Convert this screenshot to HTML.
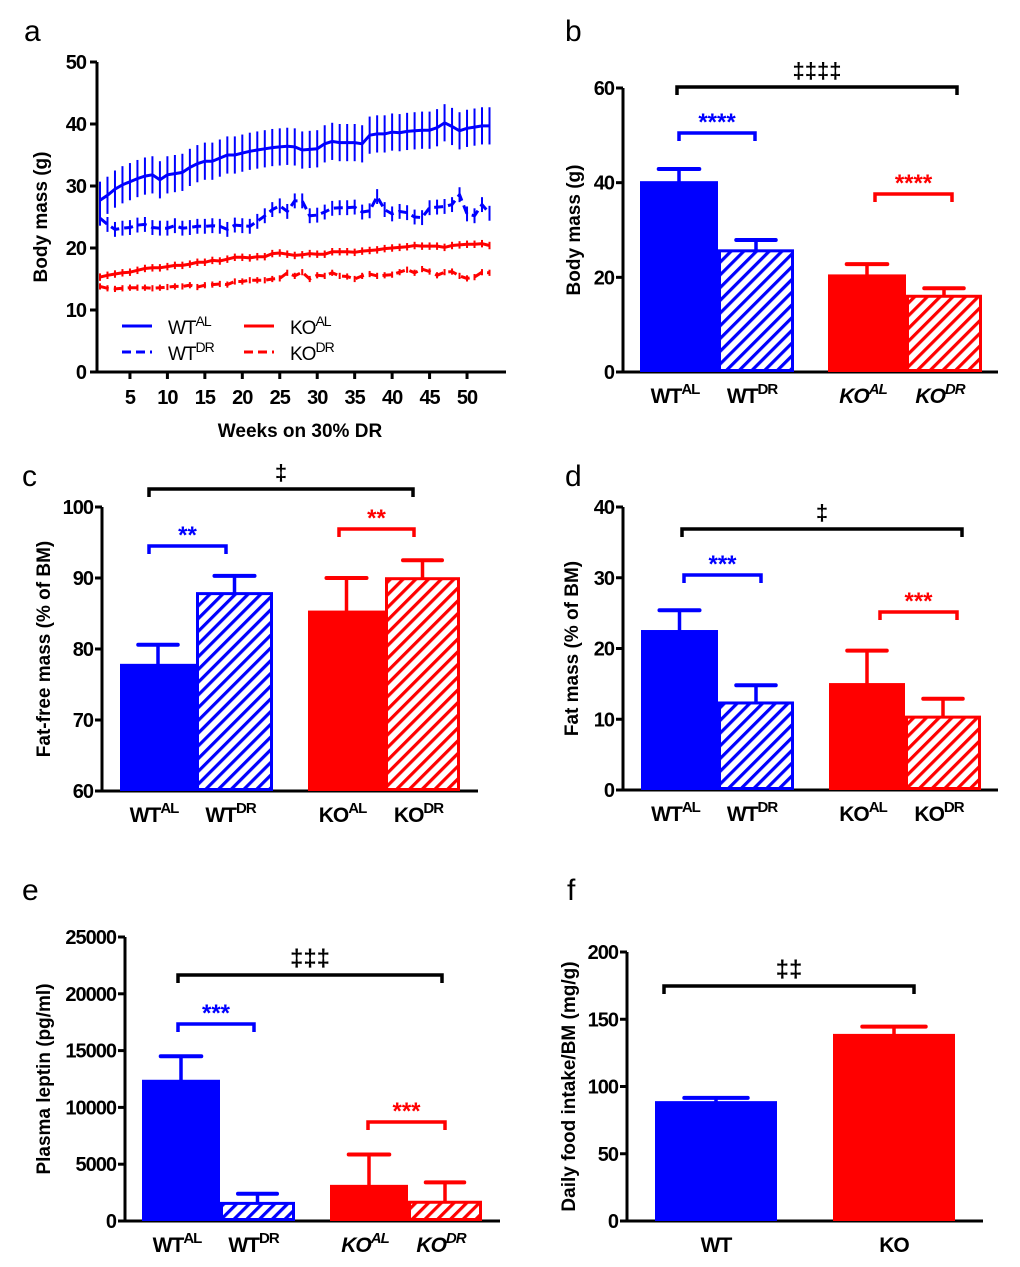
<!DOCTYPE html>
<html><head><meta charset="utf-8">
<style>
html,body{margin:0;padding:0;background:#fff;}
svg{display:block;font-family:"Liberation Sans",Arial,sans-serif;}
.tick{font-weight:bold;font-size:20px;letter-spacing:-1px;}
.ttl{font-weight:bold;font-size:19px;}
.let{font-size:30px;}
</style></head>
<body>
<svg id="fig" width="1020" height="1267" viewBox="0 0 1020 1267">
<defs>
<pattern id="hb" patternUnits="userSpaceOnUse" width="9" height="9" patternTransform="rotate(45)"><rect x="0" y="0" width="3.2" height="9" fill="#0000ff"/></pattern>
<pattern id="hr" patternUnits="userSpaceOnUse" width="9" height="9" patternTransform="rotate(45)"><rect x="0" y="0" width="3.2" height="9" fill="#ff0000"/></pattern>
</defs>
<text class="let" x="24" y="41">a</text>
<text class="let" x="565" y="41">b</text>
<text class="let" x="22" y="486">c</text>
<text class="let" x="565" y="486">d</text>
<text class="let" x="22" y="900">e</text>
<text class="let" x="567" y="900">f</text>
</svg>
<script>
// ---- Panel a data ----
const weeks = Array.from({length:53},(_, i)=>i+1);
const wtAL = [27.7,28.5,29.5,30.2,30.7,31.2,31.6,31.8,31.0,31.8,32.0,32.2,33.0,33.6,34.0,34.0,34.5,35.0,35.0,35.3,35.6,35.8,36.0,36.2,36.3,36.4,36.3,35.8,35.9,36.0,36.8,37.2,37.0,37.0,37.0,36.8,38.2,38.4,38.4,38.7,38.6,38.8,38.9,39.0,39.0,39.4,40.2,39.6,38.9,39.3,39.5,39.7,39.7];
const wtDR = [24.8,23.8,23.0,23.2,23.3,23.7,23.8,23.3,23.2,23.2,23.6,23.2,23.3,23.5,23.5,23.6,23.5,23.0,23.7,23.6,23.5,24.3,25.2,26.2,26.8,25.9,27.6,27.6,25.2,25.3,25.8,26.4,26.5,26.5,26.6,25.8,26.0,28.3,26.2,25.5,25.9,25.7,25.0,24.9,26.5,26.6,26.7,27.0,28.6,25.5,25.2,27.0,25.6];
const koAL = [15.3,15.6,15.8,16.0,16.1,16.4,16.7,16.8,16.8,17.0,17.2,17.2,17.4,17.7,17.7,18.0,17.9,18.2,18.5,18.5,18.4,18.6,18.6,19.1,19.2,19.0,18.8,18.9,19.1,19.0,19.0,19.4,19.4,19.4,19.3,19.5,19.6,19.7,19.9,20.0,20.1,20.2,20.4,20.3,20.3,20.3,20.1,20.4,20.5,20.6,20.6,20.7,20.4];
const koDR = [13.8,13.5,13.4,13.5,13.6,13.6,13.6,13.5,13.6,13.7,13.8,13.8,14.0,13.7,14.0,14.1,14.2,14.1,14.6,14.6,14.8,14.8,14.8,15.0,15.1,16.0,15.5,16.1,15.0,15.6,15.5,16.0,15.5,15.4,15.0,15.5,15.8,15.5,15.6,15.7,16.1,16.5,16.0,16.6,16.2,15.6,16.1,16.2,15.5,15.1,15.3,16.1,16.0];
const errWtAL = 3.0, errWtDR = 1.2, errKoAL = 0.6, errKoDR = 0.5;
const aYTicks = [0,10,20,30,40,50];
const aXTicks = [5,10,15,20,25,30,35,40,45,50];

// ---- Bar panels data ----
const groupLabels = ["WT","WT","KO","KO"];
const groupSups = ["AL","DR","AL","DR"];
const bVals = [40.0,25.6,20.3,16.0];
const bErrs = [2.9,2.3,2.5,1.7];
const bTicks = [0,20,40,60];
const cVals = [77.7,87.8,85.2,89.9];
const cErrs = [2.9,2.5,4.8,2.6];
const cTicks = [60,70,80,90,100];
const dVals = [22.4,12.3,14.9,10.3];
const dErrs = [3.0,2.5,4.8,2.6];
const dTicks = [0,10,20,30,40];
const eVals = [12300,1550,3050,1650];
const eErrs = [2200,850,2800,1750];
const eTicks = [0,5000,10000,15000,20000,25000];
const fLabels = ["WT","KO"];
const fVals = [88,138];
const fErrs = [3.5,6.5];
const fTicks = [0,50,100,150,200];

const svg = document.getElementById('fig');
const NS = 'http://www.w3.org/2000/svg';
function mk(tag, attrs, parent){
  const e = document.createElementNS(NS, tag);
  for (const k in attrs) e.setAttribute(k, attrs[k]);
  (parent||svg).appendChild(e);
  return e;
}
function lin(d0,d1,r0,r1){return v => r0 + (v-d0)*(r1-r0)/(d1-d0);}

// ---- Panel a ----
(function(){
  const g = mk('g',{});
  
  
  const x = lin(0,53,92.5,489.5), y = lin(0,50,372,62);
  const ax = mk('path',{d:'M97 62 V372 H506',stroke:'#000','stroke-width':3,fill:'none'},g);
  
  
  aYTicks.forEach(t=>{
    mk('line',{x1:90,x2:97,y1:y(t),y2:y(t),stroke:'#000','stroke-width':3},g);
    const tx = mk('text',{x:86,y:y(t)+7,'text-anchor':'end',class:'tick'},g);
    tx.textContent = t;
    
    
  });
  aXTicks.forEach(t=>{
    mk('line',{x1:x(t),x2:x(t),y1:372,y2:379,stroke:'#000','stroke-width':3},g);
    const tx = mk('text',{x:x(t),y:404,'text-anchor':'middle',class:'tick'},g);
    tx.textContent = t;
    
    
  });
  const xt = mk('text',{x:300,y:437,'text-anchor':'middle',class:'ttl'},g);
  xt.textContent = 'Weeks on 30% DR';
  
  
  const yt = mk('text',{x:0,y:0,'text-anchor':'middle',class:'ttl',transform:'translate(47,217) rotate(-90)'},g);
  yt.textContent = 'Body mass (g)';
  
  
  const series = [
    {v:wtAL,e:errWtAL,c:'#0000ff',dash:'',n:'wt-al'},
    {v:wtDR,e:errWtDR,c:'#0000ff',dash:'9,5',n:'wt-dr'},
    {v:koAL,e:errKoAL,c:'#ff0000',dash:'',n:'ko-al'},
    {v:koDR,e:errKoDR,c:'#ff0000',dash:'9,5',n:'ko-dr'}];
  series.forEach(s=>{
    const sg = mk('g',{},g);
    
    
    let d='';
    s.v.forEach((v,i)=>{
      const X = x(weeks[i]);
      mk('line',{x1:X,x2:X,y1:y(v-s.e),y2:y(v+s.e),stroke:s.c,'stroke-width':2},sg);
      d += (i?'L':'M')+X.toFixed(1)+' '+y(v).toFixed(1);
    });
    const p = mk('path',{d:d,fill:'none',stroke:s.c,'stroke-width':3,'stroke-dasharray':s.dash||'none'},sg);
    
    
  });
  const leg = [[122,326,'#0000ff','','WT','AL',168],[122,352,'#0000ff','9,5','WT','DR',168],[244,326,'#ff0000','','KO','AL',290],[244,352,'#ff0000','9,5','KO','DR',290]];
  leg.forEach(l=>{
    const lg = mk('g',{},g);
    
    
    mk('line',{x1:l[0],x2:l[0]+30,y1:l[1],y2:l[1],stroke:l[2],'stroke-width':3,'stroke-dasharray':l[3]||'none'},lg);
    const t = mk('text',{x:l[6],y:l[1]+8,'font-size':'19px','letter-spacing':'-1px'},lg);
    t.innerHTML = l[4]+'<tspan font-size="14px" dy="-8">'+l[5]+'</tspan>';
  });
})();

function bracket(g,x1,x2,yy,color,label,fs){
  const bg = mk('g',{},g);
  
  
  mk('path',{d:`M${x1} ${yy+8} V${yy} H${x2} V${yy+8}`,fill:'none',stroke:color,'stroke-width':3.5},bg);
  const t = mk('text',{x:(x1+x2)/2,y:yy-(fs?9:3),'text-anchor':'middle',fill:color,'font-weight':'bold','font-size':(fs||24)+'px'},bg);
  t.textContent = label;
}

function barPanel(o){
  const g = mk('g',{});
  
  
  const y = lin(o.ticks[0],o.ticks[o.ticks.length-1],o.y0,o.y1);
  const ax = mk('path',{d:`M${o.ax} ${o.y1} V${o.y0} H${o.axEnd}`,stroke:'#000','stroke-width':3,fill:'none'},g);
  
  
  o.ticks.forEach(t=>{
    mk('line',{x1:o.ax-7,x2:o.ax,y1:y(t),y2:y(t),stroke:'#000','stroke-width':3},g);
    const tx = mk('text',{x:o.ax-9,y:y(t)+7,'text-anchor':'end',class:'tick'},g);
    tx.textContent = t;
    
    
  });
  const yt = mk('text',{x:0,y:0,'text-anchor':'middle',class:'ttl',transform:`translate(${o.ytx},${(o.y0+o.y1)/2}) rotate(-90)`},g);
  yt.textContent = o.ytitle;
  
  
  o.vals.forEach((v,i)=>{
    const x0 = o.bx[i][0], x1 = o.bx[i][1], w = x1-x0;
    const col = o.colors[i];
    const hatched = o.hatch[i];
    const top = y(v);
    mk('line',{x1:(x0+x1)/2,x2:(x0+x1)/2,y1:top,y2:y(v+o.errs[i]),stroke:col,'stroke-width':3.5},g);
    const cw = w*0.26;
    mk('line',{x1:(x0+x1)/2-cw,x2:(x0+x1)/2+cw,y1:y(v+o.errs[i]),y2:y(v+o.errs[i]),stroke:col,'stroke-width':4,'stroke-linecap':'round'},g);
    const r = mk('rect',{x:x0+1.5,y:top,width:w-3,height:o.y0-top-1.5,fill:hatched?(col==='#0000ff'?'url(#hb)':'url(#hr)'):col,stroke:col,'stroke-width':3},g);
    
    
    const lt = mk('text',{x:(x0+x1)/2+(o.sups?-4:0),y:o.y0+31,'text-anchor':'middle','font-weight':'bold','font-size':'21px','letter-spacing':'-1px','font-style':(o.italKO&&o.labels[i]==='KO')?'italic':'normal'},g);
    lt.innerHTML = o.labels[i] + (o.sups?'<tspan font-size="15px" dy="-9">'+o.sups[i]+'</tspan>':'');
    
    
  });
  o.brackets.forEach(b=>bracket(g,b[0],b[1],b[2],b[3],b[4],b[5]));
}
const C4 = ['#0000ff','#0000ff','#ff0000','#ff0000'];
const H4 = [false,true,false,true];
barPanel({name:'panel-b-body-mass',vals:bVals,errs:bErrs,ticks:bTicks,y0:372,y1:88,ax:623,axEnd:998,ytx:580,ytitle:'Body mass (g)',
  bx:[[640,718],[718,794],[828,906],[906,982]],colors:C4,hatch:H4,labels:groupLabels,sups:groupSups,italKO:true,
  brackets:[[677,957,87,'#000','‡‡‡‡',22],[679,755,133,'#0000ff','****'],[875,952,194,'#ff0000','****']]});
barPanel({name:'panel-c-fat-free-mass',vals:cVals,errs:cErrs,ticks:cTicks,y0:791,y1:507,ax:102,axEnd:478,ytx:50,ytitle:'Fat-free mass (% of BM)',
  bx:[[120,196],[196,273],[308,385],[385,460]],colors:C4,hatch:H4,labels:groupLabels,sups:groupSups,italKO:false,
  brackets:[[149,413,489,'#000','‡',22],[149,226,546,'#0000ff','**'],[339,414,529,'#ff0000','**']]});
barPanel({name:'panel-d-fat-mass',vals:dVals,errs:dErrs,ticks:dTicks,y0:790,y1:507,ax:623,axEnd:998,ytx:578,ytitle:'Fat mass (% of BM)',
  bx:[[641,718],[718,794],[829,905],[905,981]],colors:C4,hatch:H4,labels:groupLabels,sups:groupSups,italKO:false,
  brackets:[[682,962,529,'#000','‡',22],[684,761,575,'#0000ff','***'],[880,957,612,'#ff0000','***']]});
barPanel({name:'panel-e-plasma-leptin',vals:eVals,errs:eErrs,ticks:eTicks,y0:1221,y1:937,ax:125,axEnd:500,ytx:50,ytitle:'Plasma leptin (pg/ml)',
  bx:[[142,220],[220,295],[330,408],[408,482]],colors:C4,hatch:H4,labels:groupLabels,sups:groupSups,italKO:true,
  brackets:[[178,442,975,'#000','‡‡‡',24],[178,254,1024,'#0000ff','***'],[368,445,1122,'#ff0000','***']]});
barPanel({name:'panel-f-food-intake',vals:fVals,errs:fErrs,ticks:fTicks,y0:1221,y1:952,ax:627,axEnd:983,ytx:575,ytitle:'Daily food intake/BM (mg/g)',
  bx:[[655,777],[833,955]],colors:['#0000ff','#ff0000'],hatch:[false,false],labels:fLabels,sups:null,italKO:false,
  brackets:[[664,914,986,'#000','‡‡',24]]});
</script>
</body></html>
